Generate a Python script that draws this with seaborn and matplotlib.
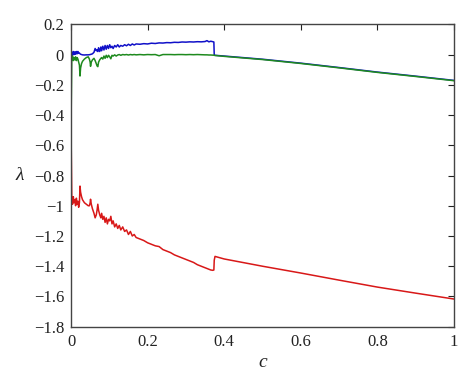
import matplotlib
matplotlib.use("Agg")
import matplotlib.pyplot as plt
import seaborn as sns
import pandas as pd

sns.set_style("white")
plt.rcParams["font.family"] = ["Liberation Serif", "DejaVu Serif"]
plt.rcParams["mathtext.fontset"] = "stix"

c = [0.000, 0.002, 0.004, 0.006, 0.008, 0.010, 0.012, 0.014, 0.016, 0.018,
     0.020, 0.022, 0.0235, 0.025, 0.0275, 0.030, 0.035, 0.040, 0.045, 0.048,
     0.050, 0.051, 0.053, 0.056, 0.060, 0.063, 0.066, 0.068, 0.070, 0.072,
     0.075, 0.078, 0.080, 0.083, 0.086, 0.089, 0.092, 0.095, 0.098, 0.101,
     0.104, 0.107, 0.110, 0.114, 0.118, 0.122, 0.126, 0.130, 0.135, 0.140,
     0.145, 0.150, 0.155, 0.160, 0.165, 0.170, 0.180, 0.190, 0.200, 0.210,
     0.220, 0.230, 0.240, 0.250, 0.260, 0.270, 0.280, 0.290, 0.300, 0.310,
     0.320, 0.330, 0.340, 0.350, 0.355, 0.360, 0.365, 0.370, 0.373, 0.374,
     0.376, 0.400, 0.500, 0.600, 0.700, 0.800, 0.900, 1.000]

lam_blue = [0.005, 0.015, -0.005, 0.020, 0.000, 0.018, 0.002, 0.020, 0.005, 0.020,
            0.008, 0.010, 0.005, 0.002, 0.000, -0.002, -0.003, -0.002, -0.002, -0.001,
            0.000, 0.001, 0.002, 0.005, 0.015, 0.040, 0.025, 0.030, 0.020, 0.045,
            0.020, 0.050, 0.025, 0.055, 0.030, 0.060, 0.035, 0.060, 0.040, 0.065,
            0.045, 0.055, 0.040, 0.060, 0.050, 0.065, 0.050, 0.060, 0.055, 0.065,
            0.058, 0.068, 0.060, 0.070, 0.063, 0.070, 0.068, 0.072, 0.070, 0.075,
            0.073, 0.077, 0.076, 0.079, 0.078, 0.081, 0.080, 0.083, 0.082, 0.084,
            0.083, 0.085, 0.084, 0.086, 0.092, 0.084, 0.088, 0.085, 0.083, -0.004,
            -0.005, -0.010, -0.031, -0.057, -0.086, -0.116, -0.143, -0.171]

lam_green = [-0.480, -0.030, -0.010, -0.040, -0.020, -0.035, -0.015, -0.040, -0.020, -0.030,
             -0.050, -0.070, -0.142, -0.090, -0.060, -0.045, -0.030, -0.020, -0.015, -0.030,
             -0.050, -0.078, -0.050, -0.035, -0.025, -0.040, -0.060, -0.075, -0.080, -0.050,
             -0.035, -0.025, -0.020, -0.030, -0.010, -0.025, -0.005, -0.020, -0.005, -0.015,
             -0.028, -0.005, -0.010, -0.002, -0.010, -0.003, 0.000, -0.005, 0.000, -0.002,
             0.000, -0.003, 0.000, -0.002, 0.000, -0.002, 0.000, -0.002, 0.000, -0.001,
             0.000, -0.008, 0.000, 0.000, 0.000, -0.001, 0.000, 0.000, -0.001, 0.000,
             -0.001, 0.000, -0.001, -0.002, -0.002, -0.003, -0.003, -0.004, -0.004, -0.005,
             -0.006, -0.012, -0.033, -0.059, -0.088, -0.118, -0.145, -0.173]

lam_red = [-0.480, -0.950, -0.990, -0.940, -0.980, -0.960, -1.000, -0.950, -0.990, -0.970,
           -1.010, -0.980, -0.870, -0.910, -0.940, -0.960, -0.980, -0.990, -1.000, -1.000,
           -0.980, -0.957, -0.990, -1.020, -1.050, -1.080, -1.060, -1.030, -0.990, -1.030,
           -1.060, -1.080, -1.050, -1.090, -1.070, -1.110, -1.080, -1.120, -1.090, -1.100,
           -1.070, -1.120, -1.100, -1.140, -1.120, -1.150, -1.130, -1.160, -1.140, -1.170,
           -1.160, -1.190, -1.170, -1.200, -1.190, -1.210, -1.220, -1.230, -1.245, -1.255,
           -1.265, -1.270, -1.290, -1.300, -1.310, -1.325, -1.335, -1.345, -1.355, -1.365,
           -1.375, -1.390, -1.400, -1.410, -1.415, -1.420, -1.425, -1.427, -1.425, -1.360,
           -1.335, -1.352, -1.400, -1.445, -1.492, -1.538, -1.578, -1.617]

xticks = [0, 0.2, 0.4, 0.6, 0.8, 1]
xticklabels = ["0", "0.2", "0.4", "0.6", "0.8", "1"]
yticks = [0.2, 0, -0.2, -0.4, -0.6, -0.8, -1, -1.2, -1.4, -1.6, -1.8]
yticklabels = ["0.2", "0", "\u22120.2", "\u22120.4", "\u22120.6", "\u22120.8", "\u22121",
               "\u22121.2", "\u22121.4", "\u22121.6", "\u22121.8"]

df = pd.DataFrame({"c": c, "blue": lam_blue, "green": lam_green, "red": lam_red})

fig = plt.figure(figsize=(4.74, 3.87), dpi=100)
ax = fig.add_axes([0.1498, 0.1558, 0.8080, 0.7814])

sns.lineplot(data=df, x="c", y="blue", ax=ax, color="#1010c8", lw=1.1, sort=False, estimator=None)
sns.lineplot(data=df, x="c", y="green", ax=ax, color="#1e8a1e", lw=1.1, sort=False, estimator=None)
sns.lineplot(data=df, x="c", y="red", ax=ax, color="#d81818", lw=1.1, sort=False, estimator=None)

ax.set_xlim(0, 1)
ax.set_ylim(-1.8, 0.2)
ax.set_xticks(xticks)
ax.set_xticklabels(xticklabels)
ax.set_yticks(yticks)
ax.set_yticklabels(yticklabels)
ax.tick_params(direction="in", length=4, width=0.8, top=True, right=True,
               labelsize=12, colors="#222222", pad=5)
for s in ax.spines.values():
    s.set_color("#444444")
    s.set_linewidth(1.0)

ax.set_xlabel("c", fontsize=14, style="italic", color="#222222")
ax.set_ylabel("\u03bb", fontsize=14, style="italic", rotation=0, color="#222222", va="center")
ax.yaxis.set_label_coords(-0.133, 0.5)
ax.xaxis.set_label_coords(0.5, -0.09)

fig.savefig("out.png", dpi=100, facecolor="white")
